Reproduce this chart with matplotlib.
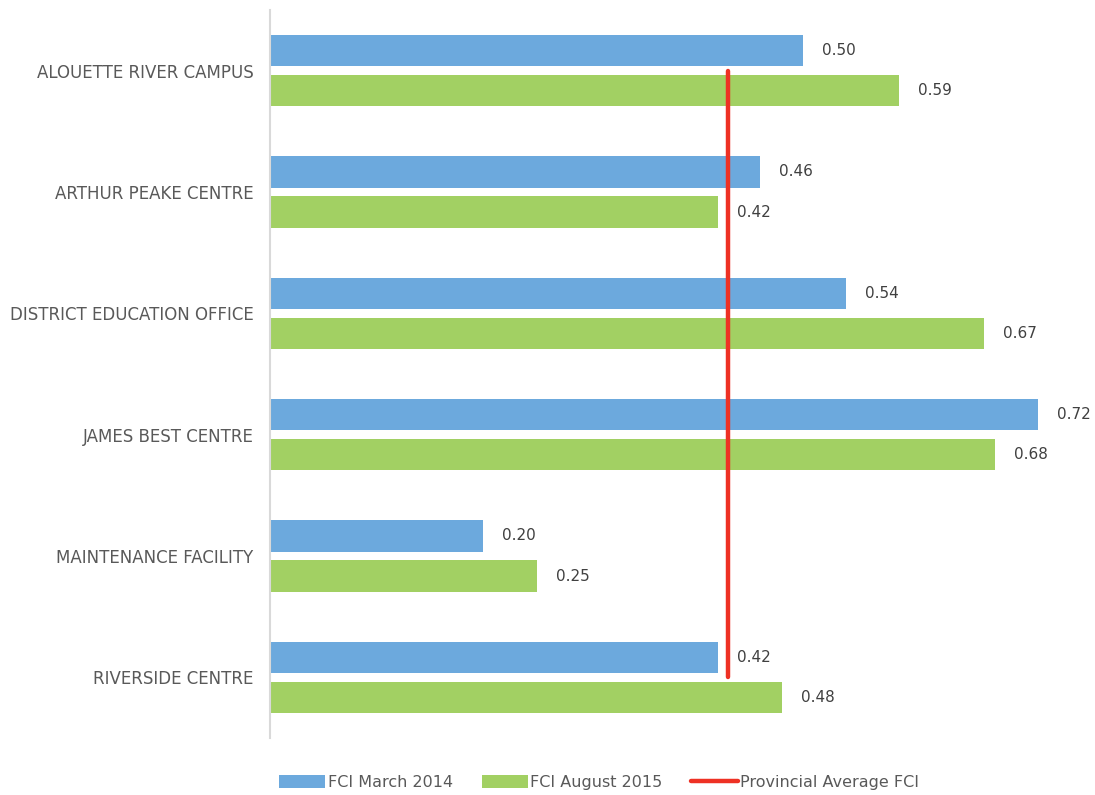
import matplotlib
matplotlib.use('Agg')
from matplotlib import pyplot as plt
import numpy as np

sites = ['ALOUETTE RIVER CAMPUS', 'ARTHUR PEAKE CENTRE', 'DISTRICT EDUCATION OFFICE',
         'JAMES BEST CENTRE', 'MAINTENANCE FACILITY', 'RIVERSIDE CENTRE']
fci_2014 = [0.50, 0.46, 0.54, 0.72, 0.20, 0.42]
fci_2015 = [0.59, 0.42, 0.67, 0.68, 0.25, 0.48]
provincial_avg = [0.43] * len(sites)

blue = '#6CA9DD'
green = '#A2D063'
red = '#EE3124'

fig = plt.figure(figsize=(10.95, 7.95), dpi=100)
ax = fig.add_axes([270 / 1095, 57 / 795, 821 / 1095, 728 / 795])

y = np.arange(len(sites))
h = 0.26
off = 0.165

b1 = ax.barh(y - off, fci_2014, height=h, color=blue, label='FCI March 2014')
b2 = ax.barh(y + off, fci_2015, height=h, color=green, label='FCI August 2015')
line, = ax.plot(provincial_avg, y, color=red, lw=3.2, solid_capstyle='round',
                label='Provincial Average FCI', zorder=3)

# value labels next to each bar
for bars in (b1, b2):
    for bar in bars:
        w = bar.get_width()
        ax.annotate(f'{w:.2f}', (w, bar.get_y() + bar.get_height() / 2),
                    xytext=(19, 0), textcoords='offset pixels',
                    va='center', ha='left', fontsize=11, color='#404040')

ax.set_xlim(0, 0.77)
ax.set_ylim(len(sites) - 0.5, -0.5)
ax.set_yticks(y)
ax.set_yticklabels(sites, fontsize=12, color='#595959')
ax.tick_params(axis='y', length=0, pad=12)
ax.set_xticks([])
for s in ('top', 'right', 'bottom'):
    ax.spines[s].set_visible(False)
ax.spines['left'].set_color('#D9D9D9')
ax.spines['left'].set_linewidth(1.5)

leg = fig.legend(handles=[b1, b2, line], loc='lower center', ncol=3, frameon=False,
                 bbox_to_anchor=(0.547, -0.012), fontsize=11.5, handlelength=2.9,
                 handleheight=0.9, handletextpad=0.15, columnspacing=1.8)
for t in leg.get_texts():
    t.set_color('#595959')

fig.savefig('out.png', dpi=100)
